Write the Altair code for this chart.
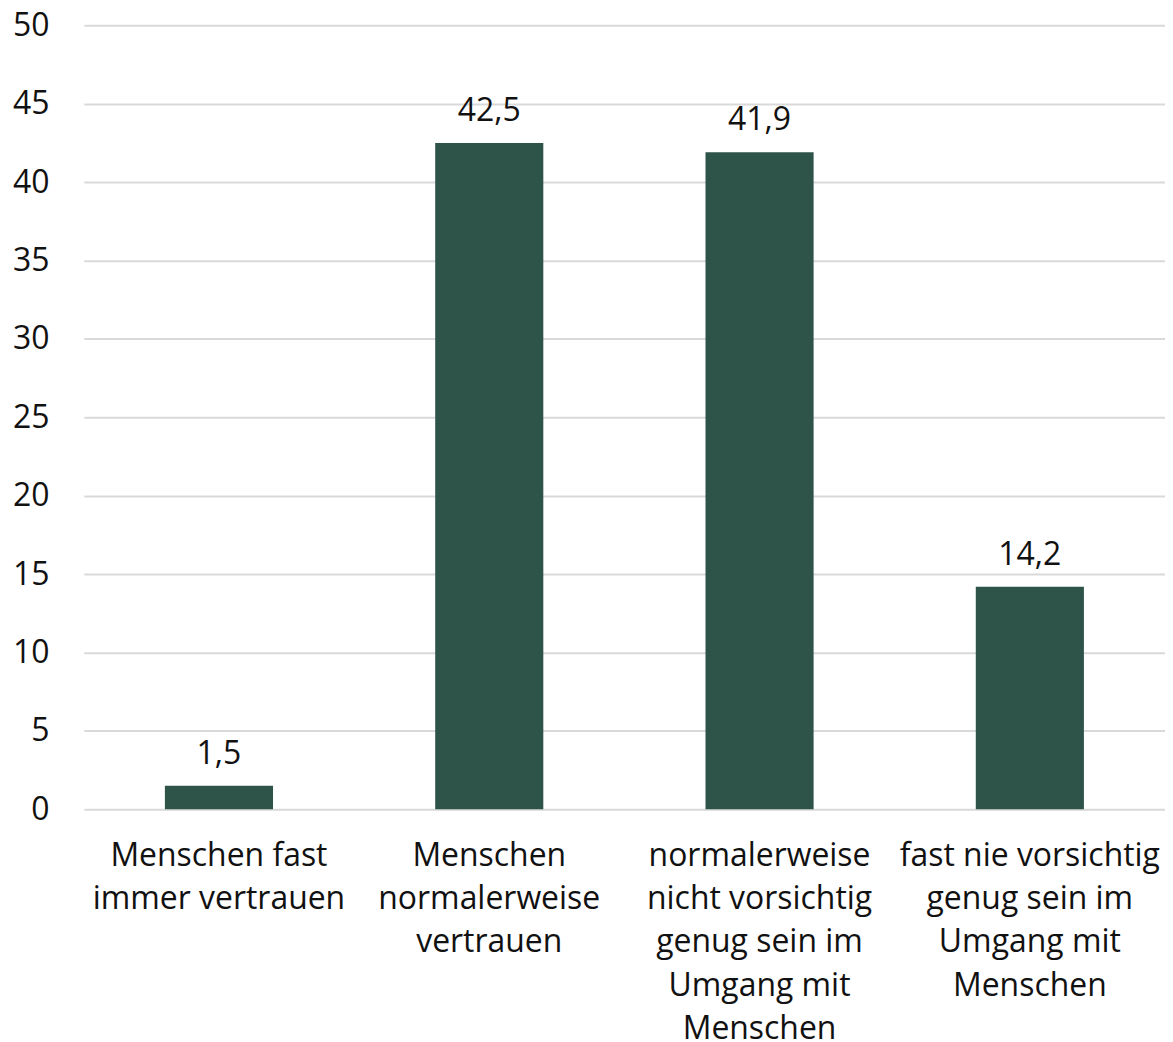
import altair as alt
import pandas as pd

categories = [
    "Menschen fast\nimmer vertrauen",
    "Menschen\nnormalerweise\nvertrauen",
    "normalerweise\nnicht vorsichtig\ngenug sein im\nUmgang mit\nMenschen",
    "fast nie vorsichtig\ngenug sein im\nUmgang mit\nMenschen",
]
values = [1.5, 42.5, 41.9, 14.2]
value_labels = ["1,5", "42,5", "41,9", "14,2"]

df = pd.DataFrame({"cat": categories, "val": values, "lbl": value_labels})

FONT = "Open Sans"
FS = 32
x = alt.X(
    "cat:N",
    sort=categories,
    title=None,
    scale=alt.Scale(paddingInner=0.6, paddingOuter=0.3),
    axis=alt.Axis(
        labelExpr="split(datum.label, '\\n')",
        labelAngle=0,
        labelLineHeight=43.5,
        labelPadding=31,
        labelBaseline="top",
        grid=False,
        labelLimit=400,
    ),
)
y = alt.Y(
    "val:Q",
    title=None,
    scale=alt.Scale(domain=[0, 50], nice=False),
    axis=alt.Axis(
        values=list(range(0, 51, 5)),
        labelPadding=35,
        gridColor="#d9d9d9",
        gridWidth=2,
    ),
)

bars = alt.Chart(df).mark_bar(color="#2E5349").encode(x=x, y=y)
text = alt.Chart(df).mark_text(
    baseline="bottom", dy=-15, fontSize=FS, font=FONT, color="#111111"
).encode(x=x, y=y, text="lbl:N")

chart = (
    alt.layer(bars, text)
    .properties(
        width=1084,
        height=786,
        background="white",
        autosize=alt.AutoSizeParams(type="none"),
        padding={"left": 76, "top": 16, "right": 0, "bottom": 240},
    )
    .configure_view(strokeWidth=0)
    .configure_axis(
        domain=False,
        ticks=False,
        labelFont=FONT,
        labelFontSize=FS,
        labelColor="#111111",
    )
)

chart.save("out.html", embed_options={"renderer": "svg", "actions": False})
